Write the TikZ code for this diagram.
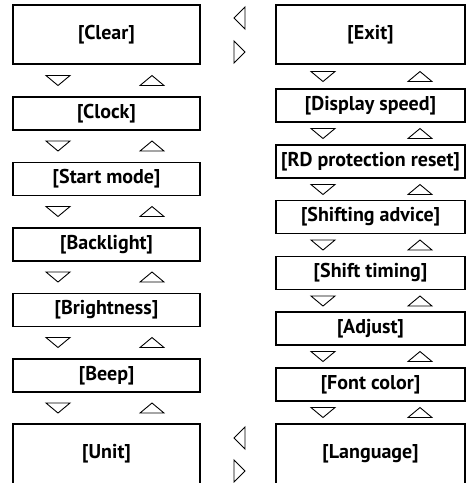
\documentclass[tikz,border=0pt]{standalone}
\usepackage{fontspec}
\setmainfont{PT Sans}
\begin{document}
\begin{tikzpicture}[x=1pt,y=-1pt,
  box/.style={draw, line width=1.1pt, inner sep=0pt, minimum width=187pt,
              font=\fontsize{20}{22}\selectfont\bfseries},
  rbox/.style={box, minimum width=189pt},
  tri/.style={draw, line width=0.9pt, line join=miter}]
\clip (0,0) rectangle (469,483);
\fill[white] (0,0) rectangle (469,483);
% left column
\node[box, minimum height=59pt] (clear) at (106.5,34.5) {[Clear]};
\node[box, minimum height=33pt] (clock) at (106.5,113.5) {[Clock]};
\node[box, minimum height=33pt] (start) at (106.5,179) {[Start mode]};
\node[box, minimum height=33pt] (back) at (106.5,244.5) {[Backlight]};
\node[box, minimum height=33pt] (bright) at (106.5,310) {[Brightness]};
\node[box, minimum height=33pt] (beep) at (106.5,375.5) {[Beep]};
\node[box, minimum height=60pt] (unit) at (106.5,454) {[Unit]};
% right column
\node[rbox, minimum height=59pt] (exit) at (370.5,34.5) {[Exit]};
\node[rbox, minimum height=33pt] (disp) at (370.5,105.5) {[Display speed]};
\node[rbox, minimum height=33pt] (rd) at (370.5,161.5) {[RD protection reset]};
\node[rbox, minimum height=33pt] (shadv) at (370.5,217) {[Shifting advice]};
\node[rbox, minimum height=33pt] (shtim) at (370.5,273) {[Shift timing]};
\node[rbox, minimum height=33pt] (adj) at (370.5,328.5) {[Adjust]};
\node[rbox, minimum height=33pt] (font) at (370.5,384.5) {[Font color]};
\node[rbox, minimum height=60pt] (lang) at (370.5,454) {[Language]};
% down / up triangles, left column
\foreach \y in {80.5,146,211.5,277,342.5,408}{
  \draw[tri] (46,\y-5) -- (70,\y-5) -- (58,\y+5) -- cycle;
  \draw[tri] (140,\y+5) -- (164,\y+5) -- (152,\y-5) -- cycle;
}
% down / up triangles, right column
\foreach \y in {76.5,133.5,189.5,245,301,356.5,412.5}{
  \draw[tri] (311,\y-5) -- (335,\y-5) -- (323,\y+5) -- cycle;
  \draw[tri] (408,\y+5) -- (432,\y+5) -- (420,\y-5) -- cycle;
}
% left / right triangles between columns
\draw[tri] (245,7) -- (245,29) -- (234,18) -- cycle;
\draw[tri] (234,41) -- (234,63) -- (245,52) -- cycle;
\draw[tri] (245,427) -- (245,449) -- (234,438) -- cycle;
\draw[tri] (234,460) -- (234,482) -- (245,471) -- cycle;
\end{tikzpicture}
\end{document}
